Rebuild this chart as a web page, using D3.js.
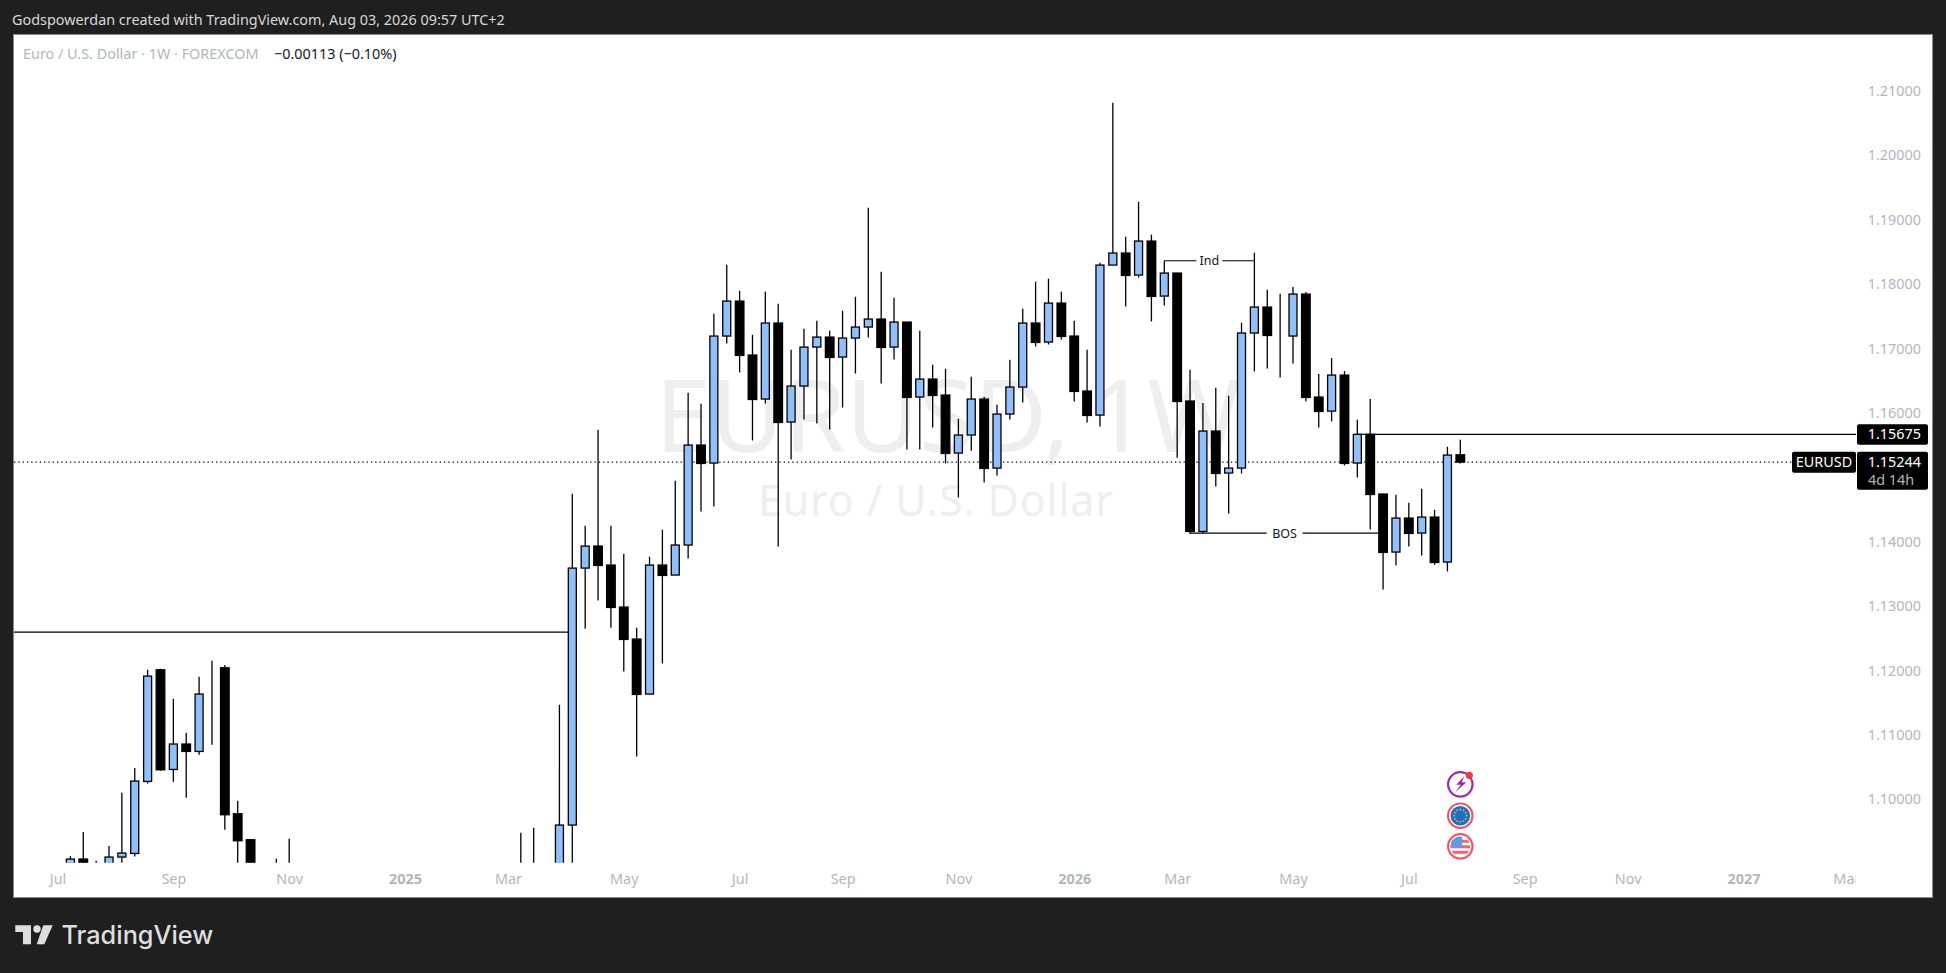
<!DOCTYPE html>
<html>
<head>
<meta charset="utf-8">
<title>EURUSD 1W</title>
<script src="https://cdn.jsdelivr.net/npm/d3@7"></script>
<style>
html, body { margin: 0; padding: 0; background: #1f1f1f; overflow: hidden; }
svg { display: block; }
text { font-family: "Noto Sans", sans-serif; }
.axis path, .axis line { display: none; }
.axis text { fill: #b2b5be; font-size: 14.4px; font-family: "Noto Sans", sans-serif; }
.axis text.year { font-weight: 700; }
.wick { stroke: #000; stroke-width: 1.3; }
.body { stroke: #000; stroke-width: 1.3; }
</style>
</head>
<body>
<div id="chart"></div>
<script>
// weekly EUR/USD candles. null = week sits below the visible range,
// 1.08800 = value hidden below the bottom edge of the pane
const opens = [
  1.08800,1.09080,1.08800,1.08800,1.09111,1.09167,1.10285,1.12019,1.10471,1.10866,
  1.10751,1.11642,1.12050,1.09783,1.09380,null,1.08800,1.08800,null,null,
  null,null,null,null,null,null,null,null,null,null,
  null,null,null,null,null,1.08800,1.08800,null,1.08800,1.09608,
  1.13598,1.13940,1.13645,1.12993,1.12496,1.11642,1.13645,1.13490,1.13956,1.15508,
  1.15229,1.17201,1.17744,1.16906,1.16223,1.17403,1.15866,1.16425,1.17030,1.17185,
  1.16875,1.17170,1.17341,1.17465,1.17030,1.17418,1.16254,1.16533,1.16285,1.15384,
  1.15664,1.16223,1.15151,1.15990,1.16409,1.17403,1.17108,1.17713,1.17201,1.16347,
  1.15974,1.18303,1.18490,1.18148,1.18676,1.17822,1.18179,1.16192,1.14167,1.15726,
  1.15074,1.15151,1.17248,1.17651,1.17210,1.17201,1.17853,1.16254,1.16036,1.16595,
  1.15229,1.15675,1.14748,1.13847,1.14375,1.14142,1.14390,1.13692,1.15357
];
const highs = [
  1.09126,1.09499,1.09053,1.09282,1.10109,1.10493,1.12019,1.12035,1.11569,1.11041,
  1.11911,1.12159,1.12092,1.09985,1.09380,null,1.09085,1.09395,null,null,
  null,null,null,null,null,null,null,null,null,null,
  null,null,null,null,null,1.09488,1.09566,null,1.11476,1.14752,
  1.14255,1.15746,1.14255,1.13821,1.12671,1.13774,1.14193,1.14954,1.16321,1.16150,
  1.17547,1.18308,1.17904,1.17221,1.17889,1.17703,1.16988,1.17314,1.17439,1.17283,
  1.17594,1.17811,1.19193,1.18199,1.17796,1.17418,1.17283,1.16755,1.16693,1.15917,
  1.16569,1.16258,1.16134,1.16833,1.17625,1.18044,1.18091,1.17889,1.17439,1.16988,
  1.18339,1.20824,1.18743,1.19286,1.18774,1.18370,1.18179,1.16678,1.16161,1.16398,
  1.16274,1.17407,1.18494,1.17920,1.17858,1.17962,1.17884,1.16611,1.16859,1.16657,
  1.15901,1.16223,1.14748,1.14737,1.14612,1.14830,1.14504,1.15482,1.15591
];
const lows = [
  1.08800,1.08800,1.08800,1.08800,1.08800,1.09120,1.10254,1.10451,1.10280,1.10032,
  1.10699,1.10855,1.09535,1.08800,1.08800,null,1.08800,1.08800,null,null,
  null,null,null,null,null,null,null,null,null,null,
  null,null,null,null,null,1.08800,1.08800,null,1.08800,1.08800,
  1.12656,1.13095,1.12671,1.11993,1.10673,1.11642,1.12117,1.13490,1.13748,1.14477,
  1.14555,1.17086,1.16636,1.15580,1.16154,1.13934,1.15285,1.15906,1.15844,1.15751,
  1.16092,1.16620,1.17179,1.16465,1.16838,1.15440,1.15440,1.15782,1.15223,1.14695,
  1.15420,1.14928,1.15036,1.15906,1.16170,1.17039,1.17070,1.17148,1.16185,1.15859,
  1.15797,1.18303,1.17661,1.18111,1.17428,1.17676,1.15311,1.14126,1.14142,1.14865,
  1.14446,1.15067,1.16651,1.16698,1.16558,1.16775,1.16185,1.15782,1.15875,1.15192,
  1.15005,1.14198,1.13266,1.13639,1.13934,1.13794,1.13650,1.13546,1.15223
];
const closes = [
  1.09080,1.08800,1.08800,1.09111,1.09173,1.10291,1.11921,1.10466,1.10866,1.10751,
  1.11642,1.11642,1.09768,1.09364,1.08800,null,1.08800,1.08800,null,null,
  null,null,null,null,null,null,null,null,null,null,
  null,null,null,null,null,1.08800,1.08800,null,1.09608,1.13598,
  1.13940,1.13639,1.12987,1.12490,1.11636,1.13645,1.13484,1.13956,1.15508,1.15223,
  1.17201,1.17744,1.16900,1.16216,1.17403,1.15859,1.16425,1.17030,1.17185,1.16869,
  1.17170,1.17341,1.17465,1.17024,1.17418,1.16248,1.16533,1.16279,1.15378,1.15664,
  1.16223,1.15145,1.15990,1.16409,1.17403,1.17102,1.17713,1.17195,1.16341,1.15968,
  1.18303,1.18490,1.18142,1.18676,1.17816,1.18179,1.16185,1.14167,1.15726,1.15067,
  1.15151,1.17248,1.17651,1.17210,1.17210,1.17853,1.16248,1.16030,1.16595,1.15223,
  1.15675,1.14741,1.13841,1.14375,1.14136,1.14390,1.13685,1.15353,1.15244
];

// 1.15000 is covered by the price labels in the reference
const priceTicks = [1.21,1.20,1.19,1.18,1.17,1.16,1.14,1.13,1.12,1.11,1.10];
const timeTicks = ["2024-07-01","2024-09-02","2024-11-04","2025-01-06","2025-03-03","2025-05-05","2025-07-07",
  "2025-09-01","2025-11-03","2026-01-05","2026-03-02","2026-05-04","2026-07-06","2026-09-07","2026-11-02","2027-01-04","2027-03-01"];
const timeLabels = ["Jul","Sep","Nov","2025","Mar","May","Jul","Sep","Nov","2026","Mar","May","Jul","Sep","Nov","2027","Mar"];

const lastPrice = 1.15244;
const levelPrice = 1.15675;
const leftLevelPrice = 1.12604;
const indPrice = 1.18370;
const bosPrice = 1.14142;

const W = 1946, H = 973;
const pane = { left: 14, top: 35, right: 1856, bottom: 862.7 };
const frame = { left: 14, top: 35, right: 1932, bottom: 897 };

const parseDay = d3.utcParse("%Y-%m-%d");
const weeks = d3.utcMonday.range(parseDay("2024-07-08"), parseDay("2026-08-04"));
const candles = weeks.map((date, i) => ({ date, o: opens[i], h: highs[i], l: lows[i], c: closes[i] }))
  .filter(d => d.o !== null);

const x = d3.scaleUtc().domain([weeks[0], weeks[108]]).range([70.4, 1460.3]);
const y = d3.scaleLinear().domain([1.10, 1.21]).range([799.8, 91.4]);

const svg = d3.select("#chart").append("svg").attr("width", W).attr("height", H);

svg.append("rect").attr("width", W).attr("height", H).attr("fill", "#1f1f1f");
svg.append("text").attr("x", 12).attr("y", 24.5).attr("fill", "#d8d8d8").attr("font-size", 14.4)
  .text("Godspowerdan created with TradingView.com, Aug 03, 2026 09:57 UTC+2");

svg.append("rect").attr("x", frame.left - 0.5).attr("y", frame.top - 0.5)
  .attr("width", frame.right - frame.left + 1).attr("height", frame.bottom - frame.top + 1)
  .attr("fill", "#fff").attr("stroke", "#8a8a8a").attr("stroke-width", 1);

const defs = svg.append("defs");
defs.append("clipPath").attr("id", "pane-clip").append("rect")
  .attr("x", pane.left).attr("y", pane.top).attr("width", pane.right - pane.left).attr("height", pane.bottom - pane.top);
defs.append("clipPath").attr("id", "axis-clip").append("rect")
  .attr("x", pane.left).attr("y", pane.bottom).attr("width", pane.right - pane.left).attr("height", frame.bottom - pane.bottom);

// watermark, split in two so the wide gap after the comma holds
const mark = svg.append("text").attr("y", 451.7).attr("font-size", 100).attr("fill", "#eeeeee");
mark.append("tspan").attr("x", 655).text("EURUSD,");
mark.append("tspan").attr("x", 1090).text("1W");
svg.append("text").attr("x", 935.5).attr("y", 516).attr("text-anchor", "middle")
  .attr("font-size", 43).attr("fill", "#eeeeee").attr("textLength", 355).text("Euro / U.S. Dollar");

// title line
svg.append("text").attr("x", 23).attr("y", 58.5).attr("font-size", 14.4).attr("fill", "#b2b5be")
  .text("Euro / U.S. Dollar · 1W · FOREXCOM");
svg.append("text").attr("x", 274).attr("y", 58.5).attr("font-size", 14.4).attr("fill", "#131722")
  .text("−0.00113 (−0.10%)");

const plot = svg.append("g").attr("clip-path", "url(#pane-clip)");

// last price line
plot.append("line").attr("x1", pane.left).attr("x2", pane.right).attr("y1", y(lastPrice)).attr("y2", y(lastPrice))
  .attr("stroke", "#000").attr("stroke-width", 1.2).attr("stroke-dasharray", "1.3 3");

const up = d => d.c >= d.o;

plot.selectAll("line.wick").data(candles).enter().append("line").attr("class", "wick")
  .attr("x1", d => x(d.date)).attr("x2", d => x(d.date))
  .attr("y1", d => y(d.h)).attr("y2", d => y(d.l));

plot.selectAll("rect.body").data(candles).enter().append("rect").attr("class", "body")
  .attr("x", d => x(d.date) - (up(d) ? 4 : 4.3))
  .attr("width", d => up(d) ? 8 : 8.6)
  .attr("y", d => y(Math.max(d.o, d.c)))
  .attr("height", d => Math.abs(y(d.o) - y(d.c)))
  .attr("fill", d => up(d) ? "#90bff9" : "#000");

// drawn levels
plot.append("line").attr("x1", pane.left).attr("x2", x(weeks[39]) - 4).attr("y1", y(leftLevelPrice)).attr("y2", y(leftLevelPrice))
  .attr("stroke", "#000").attr("stroke-width", 1.3);
plot.append("line").attr("x1", x(weeks[100])).attr("x2", pane.right).attr("y1", y(levelPrice)).attr("y2", y(levelPrice))
  .attr("stroke", "#000").attr("stroke-width", 1.3);

function drawLabelled(x1, x2, price, label) {
  const g = plot.append("g");
  const mid = (x1 + x2) / 2;
  const gap = label === "BOS" ? 18 : 13;
  g.append("line").attr("x1", x1).attr("x2", mid - gap).attr("y1", y(price)).attr("y2", y(price)).attr("stroke", "#000").attr("stroke-width", 1.2);
  g.append("line").attr("x1", mid + gap).attr("x2", x2).attr("y1", y(price)).attr("y2", y(price)).attr("stroke", "#000").attr("stroke-width", 1.2);
  g.append("text").attr("x", mid).attr("y", y(price) + 4.5).attr("text-anchor", "middle")
    .attr("font-size", 12.5).attr("fill", "#131722").text(label);
}
drawLabelled(x(weeks[85]), x(weeks[92]), indPrice, "Ind");
drawLabelled(x(weeks[87]), x(weeks[102]) - 4, bosPrice, "BOS");

// axes
const timeAxis = d3.axisBottom(x)
  .tickValues(timeTicks.map(parseDay))
  .tickFormat((d, i) => timeLabels[i])
  .tickSize(0).tickPadding(0);
const timeG = svg.append("g").attr("class", "axis").attr("clip-path", "url(#axis-clip)")
  .append("g").attr("transform", `translate(0,${pane.bottom + 11})`).call(timeAxis);
timeG.selectAll(".tick text").classed("year", (d, i) => /^\d{4}$/.test(timeLabels[i]));

const priceAxis = d3.axisRight(y)
  .tickValues(priceTicks).tickFormat(d3.format(".5f")).tickSize(0).tickPadding(0);
const priceG = svg.append("g").attr("class", "axis").attr("transform", "translate(1921,-0.5)").call(priceAxis);
priceG.selectAll(".tick text").attr("text-anchor", "end");

// price labels
function priceBox(x0, y0, w, h) {
  svg.append("rect").attr("x", x0).attr("y", y0).attr("width", w).attr("height", h).attr("rx", 2).attr("fill", "#000");
}
const lastY = y(lastPrice), levelY = y(levelPrice);
priceBox(1857, levelY - 10, 71, 20.5);
svg.append("text").attr("x", 1921).attr("y", levelY + 5).attr("text-anchor", "end").attr("font-size", 14.4).attr("fill", "#fff")
  .text(d3.format(".5f")(levelPrice));
priceBox(1857, lastY - 10.3, 71, 38);
svg.append("text").attr("x", 1921).attr("y", lastY + 5).attr("text-anchor", "end").attr("font-size", 14.4).attr("fill", "#fff")
  .text(d3.format(".5f")(lastPrice));
svg.append("text").attr("x", 1868).attr("y", lastY + 23).attr("font-size", 14.4).attr("fill", "#b2b5be").text("4d 14h");
priceBox(1792, lastY - 10.3, 64, 21);
svg.append("text").attr("x", 1824).attr("y", lastY + 5).attr("text-anchor", "middle").attr("font-size", 14.4).attr("fill", "#fff").text("EURUSD");

// event icons
const iconX = x(weeks[108]);
const bolt = svg.append("g").attr("transform", `translate(${iconX},784.3)`);
bolt.append("circle").attr("r", 12.2).attr("fill", "#fff").attr("stroke", "#9c27b0").attr("stroke-width", 2.2);
bolt.append("path").attr("d", "M4,-8 L-4,0.5 L0.5,0.5 L-5,8 L6,-2 L1.5,-2 Z").attr("fill", "#9c27b0");
bolt.append("circle").attr("cx", 9).attr("cy", -9).attr("r", 3.6).attr("fill", "#f23645");

const eu = svg.append("g").attr("transform", `translate(${iconX},815.7)`);
eu.append("circle").attr("r", 12.2).attr("fill", "#fff").attr("stroke", "#f7525f").attr("stroke-width", 2.2);
eu.append("circle").attr("r", 9.8).attr("fill", "#1d6fc4");
eu.selectAll("circle.star").data(d3.range(12)).enter().append("circle").attr("class", "star")
  .attr("cx", d => 6.2 * Math.cos(d * Math.PI / 6)).attr("cy", d => 6.2 * Math.sin(d * Math.PI / 6))
  .attr("r", 0.9).attr("fill", "#d8c24a");

defs.append("clipPath").attr("id", "us-clip").append("circle").attr("r", 10);
const us = svg.append("g").attr("transform", `translate(${iconX},846.3)`);
us.append("circle").attr("r", 12.2).attr("fill", "#fff").attr("stroke", "#f7525f").attr("stroke-width", 2.2);
const usFlag = us.append("g").attr("clip-path", "url(#us-clip)");
usFlag.selectAll("rect.stripe").data([-6.5, -1, 4.5]).enter().append("rect").attr("class", "stripe")
  .attr("x", -10).attr("width", 20).attr("y", d => d).attr("height", 3).attr("fill", "#f7626e");
usFlag.append("rect").attr("x", -10).attr("y", -10).attr("width", 12).attr("height", 11).attr("fill", "#5c9fe6");

// TradingView logo
const logo = svg.append("g").attr("fill", "#dedede");
logo.append("path").attr("d", "M15.3,925.3 H31 V944.3 H23 V932 H15.3 Z");
logo.append("circle").attr("cx", 37).attr("cy", 929).attr("r", 3.7);
logo.append("path").attr("d", "M43.3,925.3 H52.7 L44.3,944.3 H36.7 Z");
logo.append("text").attr("x", 61.5).attr("y", 944.3).attr("font-size", 25.3).attr("font-weight", 500)
  .style("font-family", "Inter, sans-serif").text("TradingView");
</script>
</body>
</html>
